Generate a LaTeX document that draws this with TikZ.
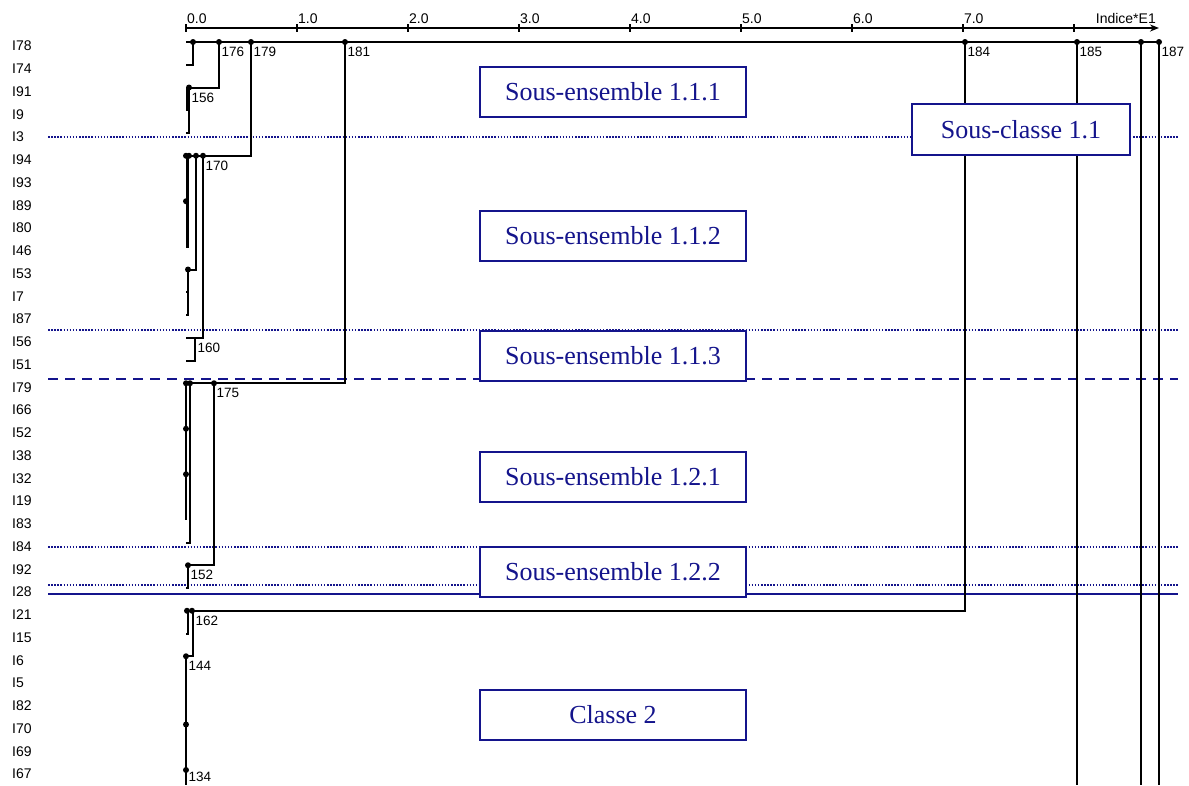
\documentclass[tikz,border=0pt]{standalone}
\usepackage{fontspec}
\setmainfont{Liberation Sans}
\newfontfamily\boxfont{Liberation Serif}
\usetikzlibrary{arrows.meta}
\definecolor{sepblue}{RGB}{20,20,140}
\tikzset{
  dendro/.style={line width=2pt},
  leaflab/.style={anchor=west,inner sep=0pt,font=\fontsize{14}{16}\selectfont},
  mergelab/.style={anchor=north west,inner sep=0pt,font=\fontsize{13.5}{15}\selectfont},
  ticklab/.style={anchor=south west,inner sep=1pt,font=\fontsize{14}{16}\selectfont},
  sepdot/.style={sepblue,line width=1.6pt,dash pattern=on 1.5pt off 1.6pt},
  groupbox/.style={draw=sepblue,fill=white,line width=1.6pt,text=sepblue,
    minimum width=266pt,minimum height=50pt,inner sep=0pt,
    font=\boxfont\fontsize{26}{28}\selectfont}
}

\begin{document}
\begin{tikzpicture}[x=1pt,y=-1pt]
  \useasboundingbox (0,0) rectangle (1189,785);

  % axis
  \draw[line width=1.8pt,-{Stealth[length=9pt,width=7pt]}] (186,28) -- (1159,28);
  \foreach \k in {0,...,8}
    \draw[line width=1.6pt] ({186+110.98*\k},24) -- ({186+110.98*\k},32);
  \foreach \k in {0,...,7}
    \node[ticklab] (tick\k) at ({186+110.98*\k},25) {\k.0};
  \node[anchor=south east,inner sep=1pt,font=\fontsize{14}{16}\selectfont] (unit) at (1157,25) {Indice*E1};

  % leaves
  \foreach \lab [count=\i from 0] in {I78,I74,I91,I9,I3,I94,I93,I89,I80,I46,I53,I7,I87,I56,I51,
      I79,I66,I52,I38,I32,I19,I83,I84,I92,I28,I21,I15,I6,I5,I82,I70,I69,I67}
    \node[leaflab] (leaf\i) at (12,{42+22.75*\i+4}) {\lab};

  % separators
  \foreach \yy in {137,330,547,585}
    \draw[sepdot] (48,\yy) -- (1178,\yy);
  \draw[sepblue,line width=2pt,dash pattern=on 10pt off 7pt] (48,379) -- (1178,379);
  \draw[sepblue,line width=1.8pt] (48,594) -- (1178,594);

  % dendrogram
  \draw[dendro] (186,42) -- (1159,42);
  \draw[dendro] (193,42) -- (193,64.75) -- (186,64.75);
  \draw[dendro] (186,87.5) -- (219,87.5) -- (219,42);
  \draw[dendro] (189,87.5) -- (189,133) -- (186,133);
  \draw[dendro] (187,87.5) -- (187,110.25) -- (189,110.25);
  \draw[dendro] (251,42) -- (251,155.75) -- (186,155.75);
  \draw[line width=3pt] (187,155.75) -- (187,246.75);
  \draw[dendro] (186,246.75) -- (189,246.75);
  \draw[dendro] (186,201.25) -- (188,201.25);
  \draw[dendro] (196,155.75) -- (196,269.5) -- (186,269.5);
  \draw[dendro] (188,269.5) -- (188,315) -- (186,315);
  \draw[dendro] (186,292.25) -- (188,292.25);
  \draw[dendro] (203,155.75) -- (203,337.75) -- (186,337.75);
  \draw[dendro] (195,337.75) -- (195,360.5) -- (186,360.5);
  \draw[dendro] (345,42) -- (345,383.25) -- (186,383.25);
  \draw[dendro] (186,383.25) -- (186,519.75);
  \draw[dendro] (190,383.25) -- (190,542.5) -- (186,542.5);
  \draw[dendro] (214,383.25) -- (214,565.25) -- (186,565.25);
  \draw[dendro] (188,565.25) -- (188,588) -- (186,588);
  \draw[dendro] (965,42) -- (965,610.75) -- (186,610.75);
  \draw[dendro] (188,610.75) -- (188,633.5) -- (186,633.5);
  \draw[dendro] (193,610.75) -- (193,656.25) -- (186,656.25);
  \draw[dendro] (186,656.25) -- (186,785);
  \draw[dendro] (1077,42) -- (1077,785);
  \draw[dendro] (1141,42) -- (1141,785);
  \draw[dendro] (1159,42) -- (1159,785);

  \foreach \px/\py in {193/42,219/42,251/42,345/42,965/42,1077/42,1141/42,1159/42,
      189/87.5,186/155.75,189/155.75,196/155.75,203/155.75,186/201.25,188/269.5,
      186/383.25,190/383.25,214/383.25,186/428.75,186/474.25,188/565.25,
      187/610.75,192/610.75,186/656.25,186/724.5,186/770}
    \fill (\px,\py) circle (3);

  \foreach \mx/\my/\mn in {219/42/176,251/42/179,345/42/181,965/42/184,1077/42/185,1159/42/187,
      189/87.5/156,203/155.75/170,195/337.75/160,214/383.25/175,188/565.25/152,
      193/610.75/162,186/656.25/144,186/767/134}
    \node[mergelab] (m\mn) at ({\mx+2.5},{\my+5}) {\mn};

  % groups
  \node[groupbox] (se111) at (613,92) {Sous-ensemble 1.1.1};
  \node[groupbox] (se112) at (613,236) {Sous-ensemble 1.1.2};
  \node[groupbox] (se113) at (613,356) {Sous-ensemble 1.1.3};
  \node[groupbox] (se121) at (613,477) {Sous-ensemble 1.2.1};
  \node[groupbox] (se122) at (613,572) {Sous-ensemble 1.2.2};
  \node[groupbox] (cl2) at (613,715) {Classe 2};
  \node[groupbox,minimum width=218pt,minimum height=51pt] (sc11) at (1021,129.5) {Sous-classe 1.1};
\end{tikzpicture}
\end{document}
